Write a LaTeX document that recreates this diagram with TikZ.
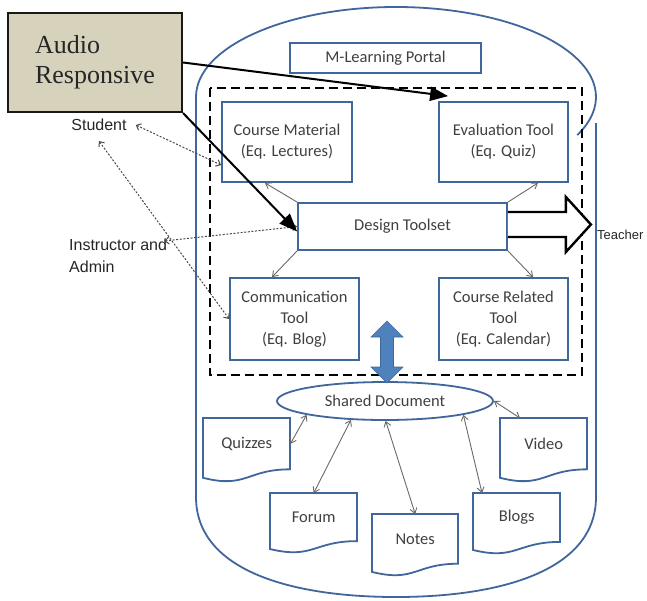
\documentclass[tikz,border=0pt]{standalone}
\usepackage{fontspec}
\setmainfont{Carlito}
\newfontfamily\labelfont{Liberation Sans}
\newfontfamily\serifbig{Liberation Serif}
\usetikzlibrary{arrows.meta,shapes.geometric}

\definecolor{boxblue}{HTML}{41669B}
\definecolor{txtgray}{HTML}{404040}
\definecolor{arrgray}{HTML}{6A6A6A}
\definecolor{dotgray}{HTML}{4A4A4A}
\definecolor{audiotan}{HTML}{D7D2BC}
\definecolor{fillblue}{HTML}{4F81BD}
\definecolor{edgeblue}{HTML}{3A6AA0}

\tikzset{
  boxline/.style={draw=boxblue, line width=1.8pt},
  boxtext/.style={font=\fontsize{16.5}{21}\selectfont, text=txtgray, align=center},
  tool/.style={boxline, boxtext, fill=white, inner sep=0pt},
  container/.style={draw=boxblue, line width=1.8pt},
  dashframe/.style={draw=black, line width=2pt, dash pattern=on 9pt off 5pt},
  bigarrow/.style={draw=black, line width=2pt, -{Triangle[length=18pt,width=14pt]}},
  dotarrow/.style={draw=dotgray, line width=1pt, dash pattern=on 2pt off 1.6pt,
    {Straight Barb[length=4pt,width=7pt]}-{Straight Barb[length=4pt,width=7pt]}},
  thinarrow/.style={draw=arrgray, line width=0.9pt, -{Straight Barb[length=5pt,width=7pt]}},
  linkarrow/.style={draw=arrgray, line width=0.9pt,
    {Straight Barb[length=5pt,width=7pt]}-{Straight Barb[length=5pt,width=7pt]}},
  hollowarrow/.style={draw=black, fill=white, line width=2.4pt, line join=miter},
  person/.style={font=\labelfont\fontsize{16}{22}\selectfont, text=black!85, inner sep=0pt, align=left},
}

% document shape with a wavy bottom edge and a named text node inside
% #1 name, #2 left, #3 top, #4 width, #5 height, #6 text
\newcommand{\docnode}[6]{%
  \draw[boxline, fill=white] (#2,#3) -- ({#2+#4},#3) -- ({#2+#4},{#3+0.802*#5})
    .. controls ({#2+0.5*#4},{#3+0.802*#5}) and ({#2+0.5*#4},{#3+1.1075*#5}) ..
    (#2,{#3+0.934*#5}) -- cycle;
  \node[boxtext, inner sep=0pt, minimum width=#4pt, minimum height={0.8*#5pt},
        anchor=north west] (#1) at (#2,#3) {#6};
}

\begin{document}
\begin{tikzpicture}[x=1pt,y=-1pt]
  \useasboundingbox (0,0) rectangle (647,600);
  \fill[white] (0,0) rectangle (647,600);

  % portal outline: domed top and rounded bottom
  \draw[container] (196,97) arc[start angle=180, end angle=385, x radius=200, y radius=90];
  \draw[container] (196,97) -- (196,497)
    .. controls (196,570) and (290,597) .. (396,597)
    .. controls (502,597) and (596,570) .. (596,497) -- (596,123);

  % dashed frame around the tool set
  \draw[dashframe] (210,88) rectangle (582,375);

  % boxes
  \node[tool, minimum width=191pt, minimum height=30pt] (portal) at (385.5,58) {M-Learning Portal};
  \node[tool, minimum width=130pt, minimum height=80pt] (cm) at (287,142) {Course Material\\(Eq. Lectures)};
  \node[tool, minimum width=129pt, minimum height=80pt] (eval) at (503.5,142) {Evaluation Tool\\(Eq. Quiz)};
  \node[tool, minimum width=209pt, minimum height=47pt] (design) at (402.5,226.5) {Design Toolset};
  \node[tool, minimum width=129pt, minimum height=82pt] (comm) at (294.5,319) {Communication\\Tool\\(Eq. Blog)};
  \node[tool, minimum width=129pt, minimum height=82pt] (crt) at (503.5,319) {Course Related\\Tool\\(Eq. Calendar)};

  % shared document and its resources
  \node[tool, ellipse, minimum width=216pt, minimum height=38pt] (shared) at (385,401) {Shared Document};
  \docnode{quiz}{203}{418}{87}{64}{Quizzes}
  \docnode{forum}{270}{493}{87}{60}{Forum}
  \docnode{notes}{372}{514}{86}{62}{Notes}
  \docnode{blogs}{473}{493}{87}{61}{Blogs}
  \docnode{video}{500}{418}{87}{64}{Video}

  % two-way block arrow between the tool set and the shared document
  \fill[fillblue, draw=edgeblue, line width=0.6pt]
    (387,321) -- (403,337) -- (393.5,337) -- (393.5,367) -- (403,367) -- (387,383)
    -- (371,367) -- (380.5,367) -- (380.5,337) -- (371,337) -- cycle;

  % actors
  \node[person] (student) at (99,125) {Student};
  \node[person, anchor=north west] (instr) at (69,239) {Instructor and\\Admin};
  \node[person, font=\labelfont\fontsize{13}{16}\selectfont, anchor=west] (teacher) at (597,235) {Teacher};

  % links from the design toolset
  \draw[thinarrow] (design.north west) -- ([xshift=-22pt]cm.south);
  \draw[thinarrow] (design.south west) -- ([xshift=-22.5pt]comm.north);
  \draw[thinarrow] (design.north east) -- ([xshift=34.5pt]eval.south);
  \draw[thinarrow] (design.south east) -- ([xshift=29.5pt]crt.north);

  % links to the shared document
  \draw[linkarrow] (quiz.east) -- (shared.190);
  \draw[linkarrow] (forum.north) -- (shared.209);
  \draw[linkarrow] (notes.north) -- (shared.272);
  \draw[linkarrow] ([xshift=9pt]blogs.north west) -- (shared.-10);
  \draw[linkarrow] ([xshift=20pt]video.north west) -- (shared.east);

  % actor links
  \draw[dotarrow] ([xshift=9pt]student.east) -- ([yshift=-23pt]cm.west);
  \draw[dotarrow] ([yshift=-10pt]student.south) -- (comm.west);
  \draw[dotarrow] ([xshift=-3pt,yshift=-2pt]instr.north east) -- (design.west);

  % output to the teacher
  \draw[hollowarrow] ([yshift=14.5pt]design.east) -- ++(58,0) -- ++(0,-15)
    -- ++(25,27.5) -- ++(-25,27.5) -- ++(0,-15) -- ([yshift=-10.5pt]design.east);

  % audio responsive callout
  \node[draw=black!90, line width=2.2pt, fill=audiotan, minimum width=174pt, minimum height=99pt,
        inner sep=0pt, align=left, font=\serifbig\fontsize{26}{30}\selectfont, text=black!85]
        (audio) at (95,62.5) {Audio\\Responsive};
  \draw[bigarrow] (audio.east) -- ([xshift=10pt,yshift=5pt]eval.north west);
  \draw[bigarrow] (audio.south east) -- ([yshift=-5pt]design.west);
\end{tikzpicture}
\end{document}
